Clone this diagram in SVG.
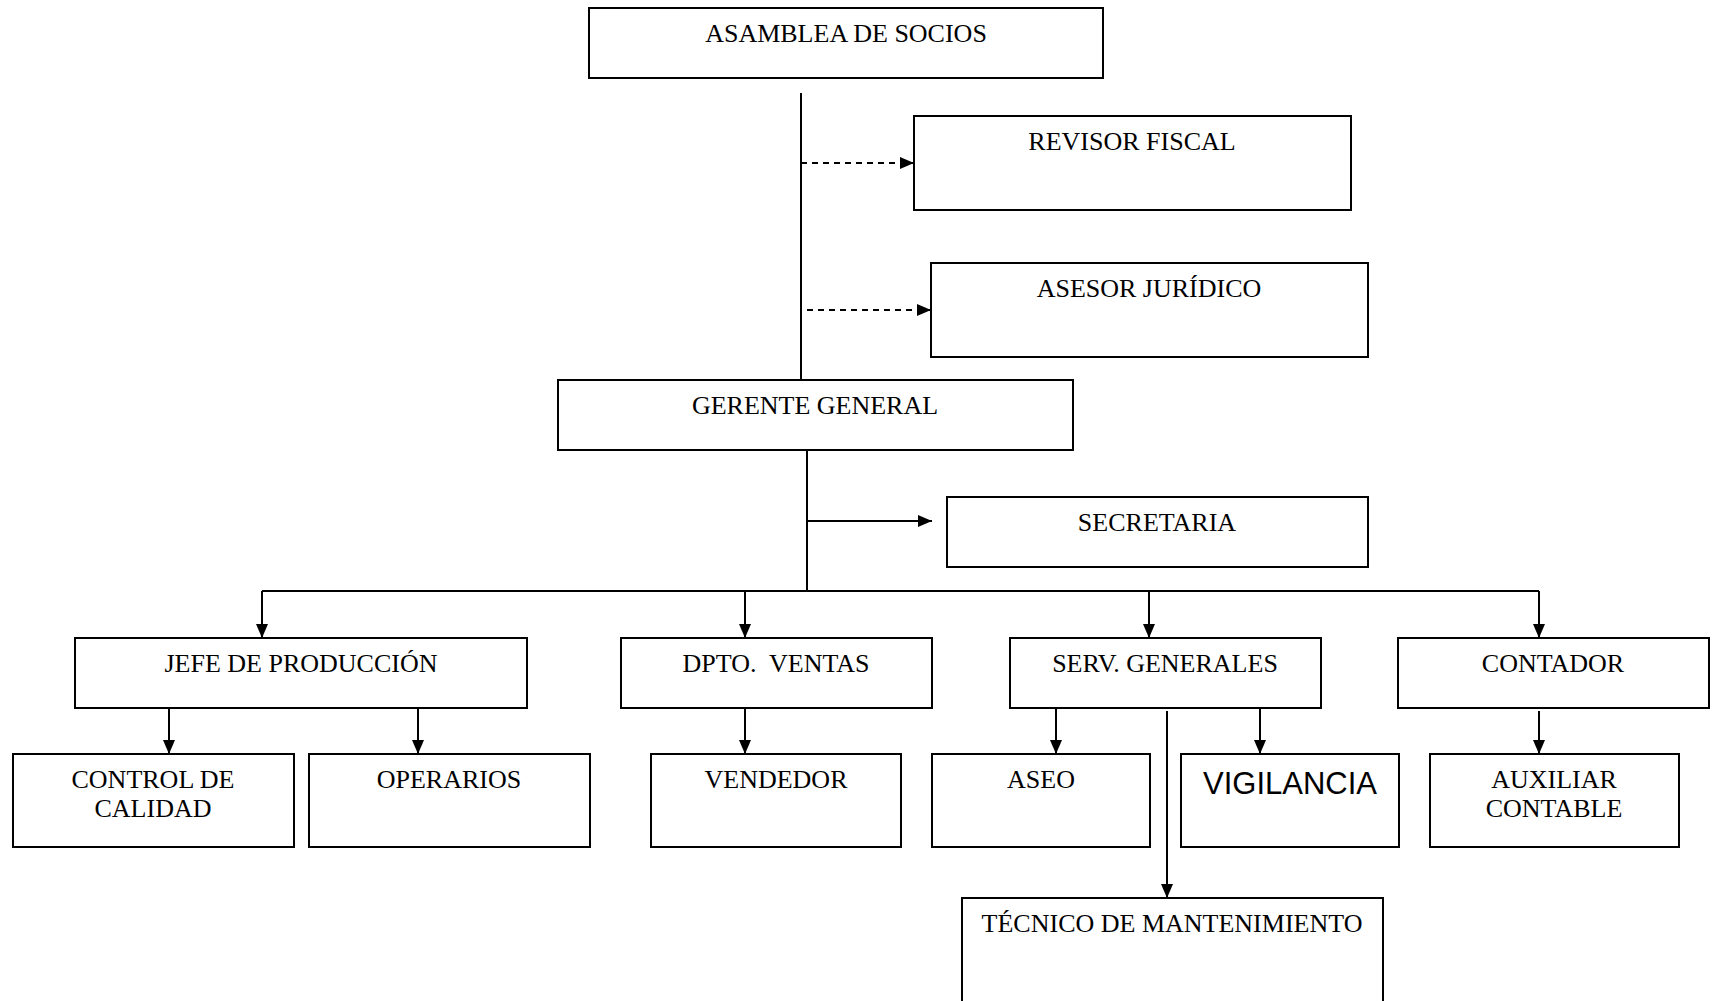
<svg xmlns="http://www.w3.org/2000/svg" width="1713" height="1001" viewBox="0 0 1713 1001">
<style>
.box{fill:#fff;stroke:#000;stroke-width:2}
.t{font-family:"Liberation Serif","Times New Roman",serif;font-size:26px;text-anchor:middle;fill:#000}
.ta{font-family:"Liberation Sans",Arial,sans-serif;font-size:31px;text-anchor:middle;fill:#000}
.ln{stroke:#000;stroke-width:2;fill:none}
.dash{stroke:#000;stroke-width:2;fill:none;stroke-dasharray:6 5}
</style>
<defs>
<marker id="ah" markerUnits="userSpaceOnUse" markerWidth="14" markerHeight="12" refX="14" refY="6" orient="auto">
<path d="M0,0 L14,6 L0,12 z" fill="#000"/>
</marker>
</defs>
<rect width="1713" height="1001" fill="#fff"/>
<g id="connectors">
<line class="ln" x1="801" y1="93" x2="801" y2="380"/>
<line class="dash" x1="801" y1="163" x2="914" y2="163" marker-end="url(#ah)"/>
<line class="dash" x1="807" y1="310" x2="931" y2="310" marker-end="url(#ah)"/>
<line class="ln" x1="807" y1="450" x2="807" y2="591"/>
<line class="ln" x1="807" y1="521" x2="932" y2="521" marker-end="url(#ah)"/>
<polyline class="ln" points="262,591 1539,591"/>
<line class="ln" x1="262" y1="591" x2="262" y2="638" marker-end="url(#ah)"/>
<line class="ln" x1="745" y1="591" x2="745" y2="638" marker-end="url(#ah)"/>
<line class="ln" x1="1149" y1="591" x2="1149" y2="638" marker-end="url(#ah)"/>
<line class="ln" x1="1539" y1="591" x2="1539" y2="638" marker-end="url(#ah)"/>
<line class="ln" x1="169" y1="708" x2="169" y2="754" marker-end="url(#ah)"/>
<line class="ln" x1="418" y1="708" x2="418" y2="754" marker-end="url(#ah)"/>
<line class="ln" x1="745" y1="708" x2="745" y2="754" marker-end="url(#ah)"/>
<line class="ln" x1="1056" y1="708" x2="1056" y2="754" marker-end="url(#ah)"/>
<line class="ln" x1="1260" y1="708" x2="1260" y2="754" marker-end="url(#ah)"/>
<line class="ln" x1="1539" y1="711" x2="1539" y2="754" marker-end="url(#ah)"/>
<line class="ln" x1="1167" y1="711" x2="1167" y2="898" marker-end="url(#ah)"/>
</g>
<g id="asamblea"><rect class="box" x="589" y="8" width="514" height="70"/><text class="t" x="846" y="42">ASAMBLEA DE SOCIOS</text></g>
<g id="revisor"><rect class="box" x="914" y="116" width="437" height="94"/><text class="t" x="1132" y="150">REVISOR FISCAL</text></g>
<g id="asesor"><rect class="box" x="931" y="263" width="437" height="94"/><text class="t" x="1149" y="297">ASESOR JURÍDICO</text></g>
<g id="gerente"><rect class="box" x="558" y="380" width="515" height="70"/><text class="t" x="815" y="414">GERENTE GENERAL</text></g>
<g id="secretaria"><rect class="box" x="947" y="497" width="421" height="70"/><text class="t" x="1157" y="531">SECRETARIA</text></g>
<g id="jefe"><rect class="box" x="75" y="638" width="452" height="70"/><text class="t" x="301" y="672">JEFE DE PRODUCCIÓN</text></g>
<g id="dpto"><rect class="box" x="621" y="638" width="311" height="70"/><text class="t" x="776" y="672" xml:space="preserve">DPTO.  VENTAS</text></g>
<g id="serv"><rect class="box" x="1010" y="638" width="311" height="70"/><text class="t" x="1165" y="672">SERV. GENERALES</text></g>
<g id="contador"><rect class="box" x="1398" y="638" width="311" height="70"/><text class="t" x="1553" y="672">CONTADOR</text></g>
<g id="control"><rect class="box" x="13" y="754" width="281" height="93"/><text class="t" x="153" y="788">CONTROL DE</text><text class="t" x="153" y="817">CALIDAD</text></g>
<g id="operarios"><rect class="box" x="309" y="754" width="281" height="93"/><text class="t" x="449" y="788">OPERARIOS</text></g>
<g id="vendedor"><rect class="box" x="651" y="754" width="250" height="93"/><text class="t" x="776" y="788">VENDEDOR</text></g>
<g id="aseo"><rect class="box" x="932" y="754" width="218" height="93"/><text class="t" x="1041" y="788">ASEO</text></g>
<g id="vigilancia"><rect class="box" x="1181" y="754" width="218" height="93"/><text class="ta" x="1290" y="794">VIGILANCIA</text></g>
<g id="auxiliar"><rect class="box" x="1430" y="754" width="249" height="93"/><text class="t" x="1554" y="788">AUXILIAR</text><text class="t" x="1554" y="817">CONTABLE</text></g>
<g id="tecnico"><rect class="box" x="962" y="898" width="421" height="130"/><text class="t" x="1172" y="932">TÉCNICO DE MANTENIMIENTO</text></g>
</svg>
